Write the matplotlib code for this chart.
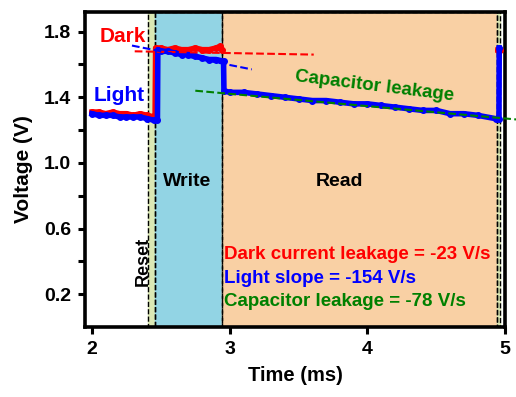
import numpy as np
import matplotlib
matplotlib.use('Agg')
import matplotlib.pyplot as plt

plt.rcParams['font.family'] = ['Liberation Sans', 'DejaVu Sans']
plt.rcParams['font.weight'] = 'bold'
plt.rcParams['axes.labelweight'] = 'bold'

# measured traces (time in ms, voltage in V)
t_dark = [2.00, 2.05, 2.10, 2.15, 2.20, 2.25, 2.30, 2.35, 2.40, 2.45, 2.458, 2.462,
          2.50, 2.55, 2.60, 2.65, 2.70, 2.75, 2.80, 2.85, 2.90, 2.93, 2.945]
v_dark = [1.31, 1.31, 1.30, 1.31, 1.30, 1.30, 1.29, 1.30, 1.29, 1.28, 1.28, 1.70,
          1.70, 1.69, 1.70, 1.69, 1.69, 1.70, 1.69, 1.69, 1.70, 1.71, 1.69]
t_dark_end = [4.95, 4.965]
v_dark_end = [1.69, 1.69]

t_light = [2.00, 2.05, 2.10, 2.15, 2.20, 2.25, 2.30, 2.35, 2.40, 2.45, 2.475, 2.478,
           2.50, 2.55, 2.60, 2.65, 2.70, 2.75, 2.80, 2.85, 2.90, 2.955, 2.958,
           3.00, 3.10, 3.20, 3.30, 3.40, 3.50, 3.60, 3.70, 3.80, 3.90, 4.00,
           4.10, 4.20, 4.30, 4.40, 4.50, 4.60, 4.70, 4.80, 4.93, 4.955, 4.957]
v_light = [1.30, 1.29, 1.29, 1.29, 1.28, 1.28, 1.28, 1.28, 1.27, 1.26, 1.26, 1.69,
           1.68, 1.68, 1.67, 1.66, 1.66, 1.65, 1.64, 1.63, 1.63, 1.62, 1.44,
           1.43, 1.43, 1.42, 1.41, 1.40, 1.39, 1.38, 1.38, 1.37, 1.36, 1.36,
           1.35, 1.34, 1.33, 1.32, 1.32, 1.30, 1.30, 1.29, 1.27, 1.27, 1.70]

# fitted slopes (dashed guides)
fit_dark_t = [2.31, 3.61]
fit_dark_v = [1.68, 1.66]
fit_light_t = [2.29, 3.16]
fit_light_v = [1.715, 1.57]
fit_cap_t = [2.75, 5.08]
fit_cap_v = [1.44, 1.265]

# phases
reset_span = (2.407, 2.455)
write_span = (2.455, 2.944)
read_span = (2.944, 4.94)
end_span = (4.94, 4.965)

notes = ['Dark current leakage = -23 V/s', 'Light slope = -154 V/s',
         'Capacitor leakage = -78 V/s']
note_colors = ['red', 'blue', 'green']
note_v = [0.44, 0.297, 0.158]

fig = plt.figure(figsize=(5.16, 3.97), dpi=100)
ax = fig.add_axes([0.165, 0.176, 0.814, 0.794])

for span, col in [(reset_span, '#dbe8b4'), (write_span, '#92d4e4'),
                  (read_span, '#f9d0a4'), (end_span, '#dbe8b4')]:
    ax.axvspan(span[0], span[1], color=col, zorder=0)
    ax.axvspan(span[0], span[1], facecolor='none', edgecolor='k',
               linestyle='--', linewidth=1.0, zorder=1)

ax.plot(t_dark, v_dark, color='red', lw=4, marker='o', ms=4, zorder=3)
ax.plot(t_dark_end, v_dark_end, color='red', lw=4, marker='o', ms=4, zorder=3)
ax.plot(t_light, v_light, color='blue', lw=4, marker='o', ms=4, zorder=4)

ax.plot(fit_dark_t, fit_dark_v, color='red', ls='--', lw=1.5, zorder=5)
ax.plot(fit_light_t, fit_light_v, color='blue', ls='--', lw=1.5, zorder=5)
ax.plot(fit_cap_t, fit_cap_v, color='green', ls='--', lw=1.5, zorder=5, clip_on=False)

ax.text(2.22, 1.77, 'Dark', color='red', fontsize=15, ha='center', va='center')
ax.text(2.20, 1.41, 'Light', color='blue', fontsize=15, ha='center', va='center')
ax.text(4.05, 1.465, 'Capacitor leakage', color='green', fontsize=13.5,
        ha='center', va='center', rotation=-7)
ax.text(2.69, 0.89, 'Write', color='k', fontsize=14, ha='center', va='center')
ax.text(3.80, 0.89, 'Read', color='k', fontsize=14, ha='center', va='center')
ax.text(2.37, 0.40, 'Reset', color='k', fontsize=13, ha='center', va='center',
        rotation=90)
for s, c, v in zip(notes, note_colors, note_v):
    ax.text(2.955, v, s, color=c, fontsize=13.5, ha='left', va='center')

ax.set_xlim(1.95, 5.0)
ax.set_ylim(0, 1.92)
ax.set_xticks([2, 3, 4, 5])
ax.set_yticks(np.arange(0.2, 1.81, 0.2))
ax.set_yticklabels(['0.2', '', '0.6', '', '1.0', '', '1.4', '', '1.8'])
ax.tick_params(direction='out', width=2.2, length=5, labelsize=14, pad=5)
for sp in ax.spines.values():
    sp.set_linewidth(2.6)
ax.set_xlabel('Time (ms)', fontsize=14.5, labelpad=6)
ax.set_ylabel('Voltage (V)', fontsize=15, labelpad=8)

fig.savefig('out.png', dpi=100)
